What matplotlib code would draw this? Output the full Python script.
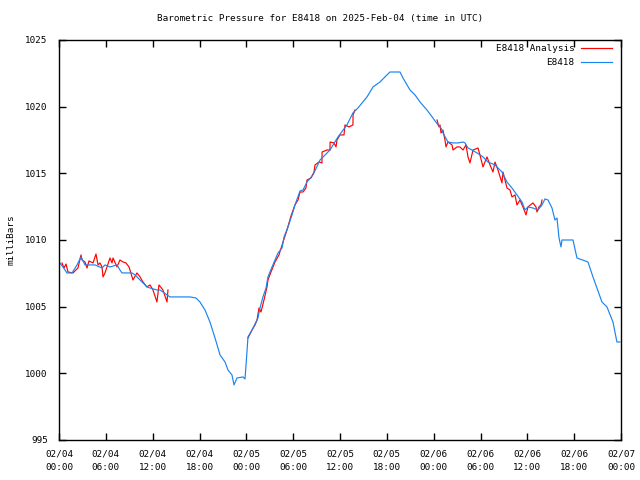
import matplotlib
matplotlib.use("Agg")
import matplotlib.pyplot as plt

# hours since 2025-02-04 00:00 UTC, pressure in millibars
blue_h = [0.00, 0.51, 1.02, 1.67, 2.31, 2.82, 3.33, 4.61, 5.51, 5.89, 6.53, 7.43, 7.81, 8.07, 9.35,
          9.74, 10.38, 10.76, 11.27, 11.66, 12.56, 12.94, 13.32, 13.84, 14.22, 16.14, 16.78, 17.55,
          18.06, 18.70, 19.34, 19.99, 20.63, 21.27, 21.65, 22.16, 22.42, 22.80, 23.57, 23.83, 24.08,
          24.21, 24.73, 25.49, 25.75, 26.13, 26.52, 26.77, 27.29, 27.67, 28.06, 28.57, 28.83, 29.34,
          29.85, 30.23, 30.88, 31.26, 31.77, 32.54, 33.44, 34.72, 35.74, 36.89, 37.66, 38.30, 39.46,
          40.23, 41.12, 41.76, 42.40, 43.69, 44.07, 44.97, 45.61, 46.25, 47.14, 47.91, 48.55, 48.94,
          49.19, 49.83, 50.48, 51.12, 51.76, 52.01, 52.40, 52.91, 53.55, 54.32, 54.96, 55.86, 56.75,
          57.39, 58.03, 58.67, 59.32, 59.70, 60.08, 60.72, 61.36, 61.88, 62.26, 62.65, 63.16, 63.54,
          63.80, 64.06, 64.31, 64.44, 64.95, 65.85, 66.36, 67.77, 68.41, 69.56, 70.20, 70.97, 71.48,
          71.87]
blue_p = [1008.35, 1007.98, 1007.53, 1007.53, 1008.13, 1008.73, 1008.13, 1008.13, 1007.90, 1008.13,
          1007.98, 1008.13, 1007.75, 1007.53, 1007.53, 1007.38, 1007.00, 1006.78, 1006.48, 1006.40,
          1006.25, 1006.25, 1006.10, 1005.88, 1005.73, 1005.73, 1005.73, 1005.65, 1005.35, 1004.75,
          1003.85, 1002.65, 1001.38, 1000.85, 1000.25, 999.88, 999.13, 999.65, 999.73, 999.58,
          1001.60, 1002.73, 1003.25, 1004.15, 1004.90, 1005.73, 1006.40, 1007.23, 1007.98, 1008.50,
          1009.03, 1009.40, 1010.23, 1010.98, 1011.88, 1012.63, 1013.68, 1013.75, 1014.35, 1014.88,
          1016.00, 1016.75, 1017.73, 1018.63, 1019.53, 1019.90, 1020.73, 1021.48, 1021.85, 1022.23,
          1022.60, 1022.60, 1022.15, 1021.25, 1020.88, 1020.35, 1019.75, 1019.15, 1018.63, 1018.40,
          1018.03, 1017.35, 1017.28, 1017.28, 1017.35, 1017.28, 1016.90, 1016.75, 1016.53, 1016.23,
          1015.85, 1015.63, 1015.10, 1014.35, 1013.90, 1013.38, 1012.85, 1012.25, 1012.48, 1012.40,
          1012.25, 1012.63, 1013.08, 1013.00, 1012.40, 1011.50, 1011.65, 1010.15, 1009.48, 1010.00,
          1010.00, 1010.00, 1008.65, 1008.35, 1007.23, 1005.35, 1004.98, 1003.85, 1002.35, 1002.35]

red1_h = [0.38, 0.64, 0.90, 1.15, 1.79, 2.43, 2.82, 2.95, 3.33, 3.59, 3.84, 4.36, 4.74, 5.00, 5.25,
          5.51, 5.64, 5.89, 6.15, 6.53, 6.79, 6.92, 7.43, 7.81, 8.20, 8.58, 8.97, 9.48, 9.99, 10.38,
          10.76, 11.27, 11.66, 12.04, 12.55, 12.81, 13.32, 13.84, 13.96]
red1_p = [1008.28, 1007.90, 1008.20, 1007.60, 1007.53, 1007.90, 1008.88, 1008.50, 1008.35, 1007.90,
          1008.43, 1008.28, 1008.95, 1008.13, 1008.28, 1007.98, 1007.23, 1007.53, 1007.98, 1008.65,
          1008.28, 1008.65, 1007.98, 1008.50, 1008.35, 1008.28, 1007.98, 1007.00, 1007.53, 1007.23,
          1006.85, 1006.48, 1006.63, 1006.25, 1005.35, 1006.63, 1006.25, 1005.35, 1006.25]

red2_h = [24.21, 24.47, 24.73, 25.11, 25.37, 25.62, 25.88, 26.26, 26.65, 26.77, 27.16, 27.67, 28.18,
          28.70, 29.21, 29.72, 30.23, 30.62, 30.88, 31.26, 31.64, 31.77, 32.28, 32.67, 32.80, 33.31,
          33.69, 33.70, 34.33, 34.72, 34.73, 35.23, 35.49, 35.61, 36.00, 36.51, 36.64, 37.15, 37.66,
          37.67, 37.92]
red2_p = [1002.65, 1002.95, 1003.25, 1003.63, 1004.00, 1004.90, 1004.60, 1005.50, 1006.48, 1007.00,
          1007.60, 1008.35, 1008.88, 1009.85, 1010.75, 1011.80, 1012.63, 1013.00, 1013.60, 1013.60,
          1013.90, 1014.50, 1014.65, 1015.10, 1015.63, 1015.85, 1015.78, 1016.60, 1016.75, 1016.75,
          1017.35, 1017.28, 1016.98, 1017.50, 1017.88, 1017.88, 1018.63, 1018.48, 1018.63, 1019.38,
          1019.75]

red3_h = [48.43, 48.68, 48.81, 48.94, 49.19, 49.45, 49.58, 49.83, 50.35, 50.48, 50.99, 51.37, 51.76,
          52.14, 52.40, 52.65, 53.04, 53.68, 53.93, 54.32, 54.83, 55.22, 55.60, 55.86, 56.24, 56.75,
          56.88, 57.39, 57.78, 58.03, 58.42, 58.67, 59.06, 59.44, 59.83, 60.08, 60.72, 61.11, 61.24,
          61.49, 61.75, 61.88]
red3_p = [1019.00, 1018.48, 1018.63, 1018.03, 1018.25, 1017.50, 1016.98, 1017.35, 1017.13, 1016.75,
          1016.98, 1016.98, 1016.75, 1017.13, 1016.23, 1015.78, 1016.75, 1016.90, 1016.38, 1015.48,
          1016.23, 1015.63, 1015.10, 1015.85, 1015.25, 1014.28, 1015.10, 1013.90, 1013.75, 1013.23,
          1013.38, 1012.63, 1013.00, 1012.48, 1011.88, 1012.48, 1012.78, 1012.48, 1012.10, 1012.48,
          1012.63, 1013.00]

tick_hours = [0, 6, 12, 18, 24, 30, 36, 42, 48, 54, 60, 66, 72]
tick_labels = ["02/04\n00:00", "02/04\n06:00", "02/04\n12:00", "02/04\n18:00",
               "02/05\n00:00", "02/05\n06:00", "02/05\n12:00", "02/05\n18:00",
               "02/06\n00:00", "02/06\n06:00", "02/06\n12:00", "02/06\n18:00",
               "02/07\n00:00"]
y_ticks = [995, 1000, 1005, 1010, 1015, 1020, 1025]

title = "Barometric Pressure for E8418 on 2025-Feb-04 (time in UTC)"

plt.rcParams['font.family'] = ['DejaVu Sans Mono']
plt.rcParams['font.size'] = 6.7

fig = plt.figure(figsize=(6.4, 4.8), dpi=100)
ax = fig.add_axes([59/640, 40/480, 562/640, 400/480])

red_c = '#ff0000'
blue_c = '#1a84f0'
ax.plot(red1_h, red1_p, color=red_c, lw=0.85, label='E8418 Analysis')
ax.plot(red2_h, red2_p, color=red_c, lw=0.85)
ax.plot(red3_h, red3_p, color=red_c, lw=0.85)
ax.plot(blue_h, blue_p, color=blue_c, lw=0.85, label='E8418')

ax.set_xlim(0, 72)
ax.set_ylim(995, 1025)
ax.set_xticks(tick_hours)
ax.set_xticklabels(tick_labels, linespacing=1.55)
ax.set_yticks(y_ticks)
ax.tick_params(direction='in', length=5, width=1, top=True, right=True, pad=7)
ax.tick_params(axis='y', pad=8)
for s in ax.spines.values():
    s.set_linewidth(1.0)

ax.set_ylabel('milliBars', labelpad=7)
fig.text(0.5, 1 - 19/480, title, ha='center', va='center')

leg = ax.legend(loc='upper right', bbox_to_anchor=(0.984, 0.99), frameon=False, markerfirst=False,
                handlelength=3.3, handletextpad=0.75, borderaxespad=0.0, borderpad=0.0,
                labelspacing=0.55)
for t in leg.get_texts():
    t.set_ha('right')

fig.savefig('out.png', dpi=100)
